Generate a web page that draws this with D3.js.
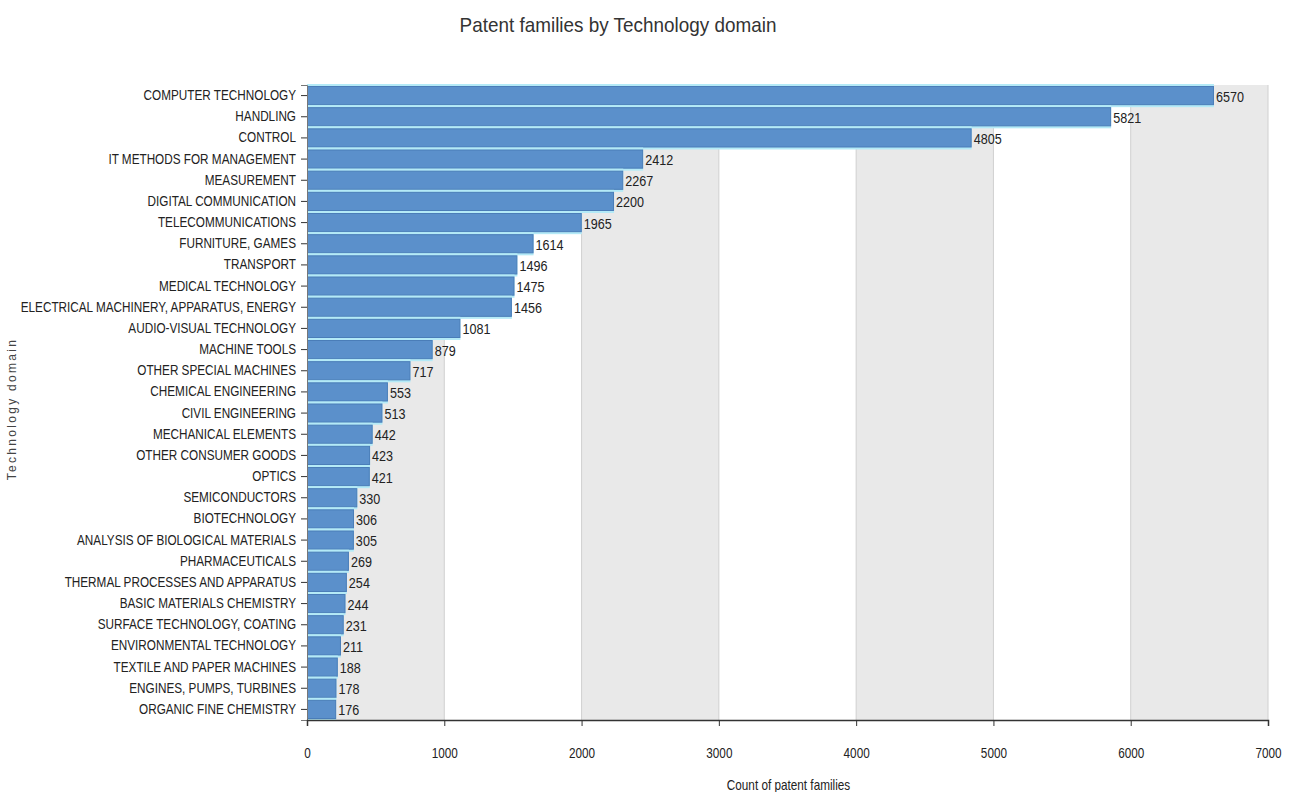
<!DOCTYPE html>
<html>
<head>
<meta charset="utf-8">
<script src="https://cdn.jsdelivr.net/npm/d3@7"></script>
<style>
  body { margin: 0; background: #fff; }
  svg { display: block; }
  text { font-family: "Liberation Sans", Arial, sans-serif; }
</style>
</head>
<body>
<div id="chart"></div>
<script>
const categories = [
  'COMPUTER TECHNOLOGY', 'HANDLING', 'CONTROL', 'IT METHODS FOR MANAGEMENT',
  'MEASUREMENT', 'DIGITAL COMMUNICATION', 'TELECOMMUNICATIONS', 'FURNITURE, GAMES',
  'TRANSPORT', 'MEDICAL TECHNOLOGY', 'ELECTRICAL MACHINERY, APPARATUS, ENERGY',
  'AUDIO-VISUAL TECHNOLOGY', 'MACHINE TOOLS', 'OTHER SPECIAL MACHINES',
  'CHEMICAL ENGINEERING', 'CIVIL ENGINEERING', 'MECHANICAL ELEMENTS',
  'OTHER CONSUMER GOODS', 'OPTICS', 'SEMICONDUCTORS', 'BIOTECHNOLOGY',
  'ANALYSIS OF BIOLOGICAL MATERIALS', 'PHARMACEUTICALS', 'THERMAL PROCESSES AND APPARATUS',
  'BASIC MATERIALS CHEMISTRY', 'SURFACE TECHNOLOGY, COATING', 'ENVIRONMENTAL TECHNOLOGY',
  'TEXTILE AND PAPER MACHINES', 'ENGINES, PUMPS, TURBINES', 'ORGANIC FINE CHEMISTRY'
];
const counts = [
  6570, 5821, 4805, 2412, 2267, 2200, 1965, 1614, 1496, 1475, 1456,
  1081, 879, 717, 553, 513, 442, 423, 421, 330, 306, 305, 269, 254,
  244, 231, 211, 188, 178, 176
];
const xTicks = [0, 1000, 2000, 3000, 4000, 5000, 6000, 7000];

const width = 1291, height = 792;
const margin = { top: 85, right: 23, bottom: 72, left: 307 };
const innerW = width - margin.left - margin.right;
const innerH = height - margin.top - margin.bottom;
const squeeze = 0.84; // labels in the original are set in a condensed face

const svg = d3.select('#chart').append('svg')
  .attr('width', width)
  .attr('height', height);

svg.append('text')
  .attr('transform', `translate(618, 32) scale(0.9, 1)`)
  .attr('text-anchor', 'middle')
  .attr('font-size', 21)
  .attr('fill', '#333')
  .text('Patent families by Technology domain');

const g = svg.append('g')
  .attr('transform', `translate(${margin.left}, ${margin.top})`);

const x = d3.scaleLinear().domain([0, 7000]).range([0, innerW]);
const y = d3.scaleBand().domain(categories).range([0, innerH]).padding(0);

// alternating bands
g.selectAll('.band')
  .data(xTicks.slice(0, -1).filter((d, i) => i % 2 === 0))
  .enter().append('rect')
  .attr('x', d => x(d))
  .attr('y', 0)
  .attr('width', d => x(d + 1000) - x(d))
  .attr('height', innerH)
  .attr('fill', '#e9e9e9');

g.selectAll('.grid')
  .data(xTicks.slice(1))
  .enter().append('line')
  .attr('x1', d => x(d)).attr('x2', d => x(d))
  .attr('y1', 0).attr('y2', innerH)
  .attr('stroke', '#d0d0d0')
  .attr('stroke-width', 1);

const rows = g.selectAll('.bar')
  .data(categories.map((c, i) => ({ c, v: counts[i] })))
  .enter().append('g')
  .attr('class', 'bar');

const cap = 4; // rounded end of the bars sticks out a little

// light cyan glow between bars
rows.append('rect')
  .attr('x', 0)
  .attr('y', d => y(d.c) - 1)
  .attr('width', d => x(d.v) + cap + 1)
  .attr('height', y.bandwidth() + 2)
  .attr('fill', '#b4eaf7');

rows.append('rect')
  .attr('x', 0.5)
  .attr('y', d => y(d.c) + 1.5)
  .attr('width', d => x(d.v) + cap)
  .attr('height', y.bandwidth() - 3)
  .attr('fill', '#5b90cb')
  .attr('stroke', '#4a7db8')
  .attr('stroke-width', 1);

rows.append('text')
  .attr('transform', d => `translate(${x(d.v) + cap + 3}, ${y(d.c) + y.bandwidth() / 2 + 6}) scale(${squeeze}, 1)`)
  .attr('font-size', 15)
  .attr('fill', '#222')
  .text(d => d.v);

// y axis
const yAxis = g.append('g')
  .call(d3.axisLeft(y).tickSize(6).tickPadding(5));
yAxis.select('.domain').attr('stroke', '#777');
yAxis.selectAll('.tick line').attr('stroke', '#333');
yAxis.selectAll('text')
  .attr('x', -11 / squeeze)
  .attr('transform', `scale(${squeeze}, 1)`)
  .attr('font-size', 14)
  .attr('font-family', '"Liberation Sans", Arial, sans-serif')
  .attr('fill', '#222');

// x axis
const xAxis = g.append('g')
  .attr('transform', `translate(0, ${innerH})`)
  .call(d3.axisBottom(x).tickValues(xTicks).tickSize(6).tickPadding(22).tickFormat(d3.format('d')));
xAxis.select('.domain').attr('stroke', '#333').attr('stroke-width', 1.5);
xAxis.selectAll('.tick line').attr('stroke', '#333');
xAxis.selectAll('text')
  .attr('transform', `scale(${squeeze}, 1)`)
  .attr('font-size', 14)
  .attr('font-family', '"Liberation Sans", Arial, sans-serif')
  .attr('fill', '#222');

svg.append('text')
  .attr('transform', `translate(${margin.left + innerW / 2 + 1}, 790) scale(${squeeze}, 1)`)
  .attr('text-anchor', 'middle')
  .attr('font-size', 14)
  .attr('fill', '#222')
  .text('Count of patent families');

svg.append('text')
  .attr('transform', 'translate(16, 409) rotate(-90)')
  .attr('text-anchor', 'middle')
  .attr('font-family', 'DejaVu Sans, sans-serif')
  .attr('font-size', 12)
  .attr('letter-spacing', 2.3)
  .attr('fill', '#444')
  .text('Technology domain');
</script>
</body>
</html>
